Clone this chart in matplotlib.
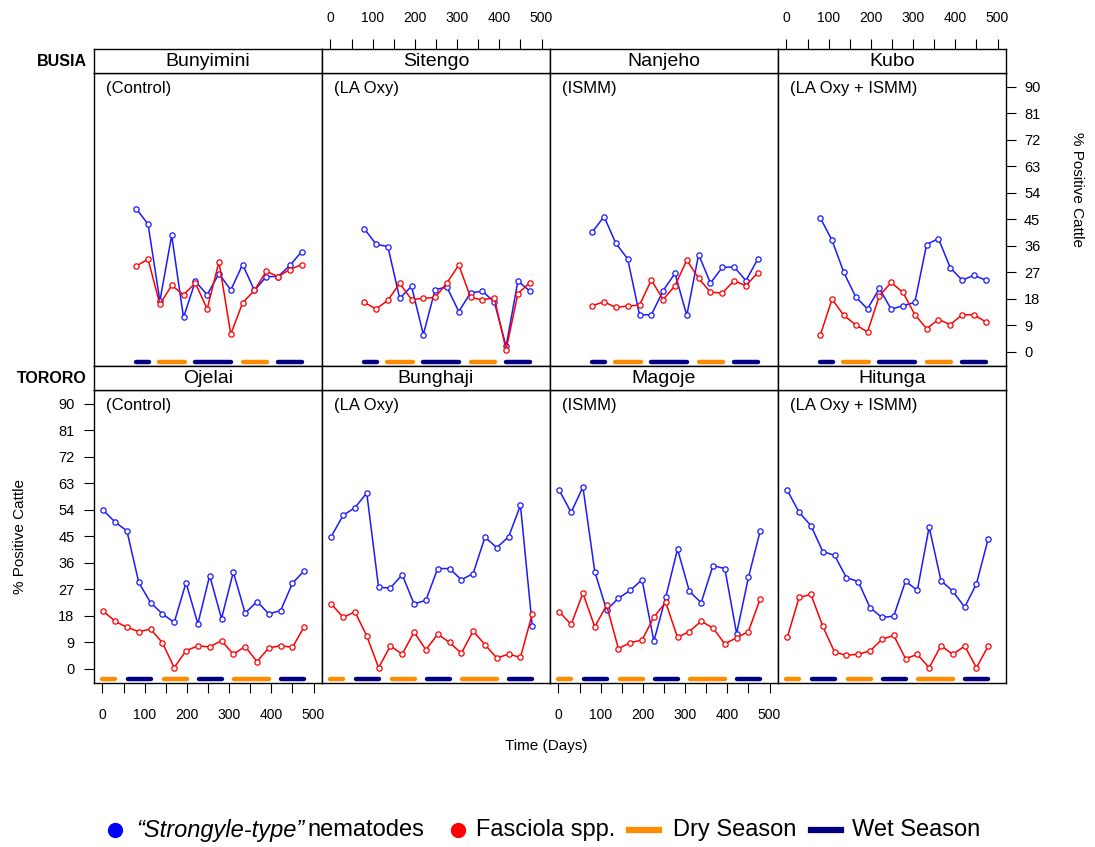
"""Lattice-style panel chart: % positive cattle over time per village, Busia / Tororo."""
import matplotlib
matplotlib.use("Agg")
import matplotlib.pyplot as plt
from matplotlib.lines import Line2D

plt.rcParams["font.family"] = ["Liberation Sans", "DejaVu Sans"]

# ---- data -------------------------------------------------------------------
DISTRICTS = ["BUSIA", "TORORO"]
SITES = [["Bunyimini", "Sitengo", "Nanjeho", "Kubo"],
         ["Ojelai", "Bunghaji", "Magoje", "Hitunga"]]
TREATMENTS = ["(Control)", "(LA Oxy)", "(ISMM)", "(LA Oxy + ISMM)"]

days_busia = [80, 108, 136, 164, 192, 220, 248, 276, 304, 332, 360, 388, 416, 444, 472]
days_tororo = [2, 30, 58, 86, 114, 142, 170, 198, 226, 254, 282, 310, 338, 366,
               394, 422, 450, 478]

bunyimini_strongyle = [48.6, 43.3, 17.2, 39.5, 11.6, 23.9, 19.3, 26.5, 20.9, 29.6,
                       20.8, 25.5, 25.5, 29.3, 34.0]
bunyimini_fasciola = [29.1, 31.4, 16.1, 22.5, 19.3, 23.3, 14.5, 30.5, 5.9, 16.6,
                      20.8, 27.3, 25.5, 27.9, 29.6]
sitengo_strongyle = [41.8, 36.5, 35.7, 18.1, 22.2, 5.8, 21.1, 21.9, 13.6, 20.0,
                     20.5, 16.9, 1.8, 24.0, 20.6]
sitengo_fasciola = [16.7, 14.5, 17.4, 23.2, 17.7, 18.1, 18.4, 23.4, 29.4, 18.4,
                    17.6, 18.3, 0.6, 19.7, 23.4]
nanjeho_strongyle = [40.6, 45.9, 36.8, 31.5, 12.5, 12.5, 20.7, 26.6, 12.3, 33.0,
                     23.3, 28.6, 28.8, 24.1, 31.4]
nanjeho_fasciola = [15.6, 16.9, 15.0, 15.5, 15.8, 24.3, 17.7, 22.4, 31.1, 24.9,
                    20.2, 19.9, 24.1, 22.4, 26.8]
kubo_strongyle = [45.5, 37.8, 26.9, 18.6, 14.5, 21.5, 14.4, 15.6, 16.7, 36.4,
                  38.4, 28.5, 24.3, 25.9, 24.3]
kubo_fasciola = [5.5, 17.8, 12.3, 9.1, 6.7, 18.9, 23.5, 20.1, 12.6, 7.8,
                 10.9, 9.2, 12.5, 12.5, 10.1]

ojelai_strongyle = [53.8, 49.8, 46.8, 29.3, 22.4, 18.6, 15.7, 29.2, 15.2, 31.6,
                    17.0, 32.8, 18.8, 22.8, 18.6, 19.7, 29.0, 33.3]
ojelai_fasciola = [19.5, 16.1, 14.0, 12.6, 13.4, 8.8, 0.3, 6.1, 7.7, 7.4,
                   9.5, 4.9, 7.5, 2.4, 7.0, 7.8, 7.2, 14.3]
bunghaji_strongyle = [44.9, 52.1, 54.7, 59.7, 27.6, 27.4, 31.9, 22.0, 23.2, 34.0,
                      34.0, 30.2, 32.3, 44.7, 41.1, 44.8, 55.5, 14.4]
bunghaji_fasciola = [22.0, 17.4, 19.3, 11.1, 0.3, 7.7, 4.9, 12.4, 6.4, 11.7,
                     8.9, 5.2, 12.8, 8.1, 3.6, 4.9, 3.8, 18.6]
magoje_strongyle = [60.6, 53.1, 61.7, 33.0, 19.9, 23.9, 26.6, 30.2, 9.3, 24.2,
                    40.6, 26.3, 22.4, 35.0, 34.0, 11.9, 31.0, 46.9]
magoje_fasciola = [19.3, 15.0, 25.6, 14.2, 21.5, 6.8, 8.8, 9.7, 17.5, 22.5,
                   10.6, 12.6, 16.1, 13.8, 8.4, 10.5, 12.6, 23.8]
hitunga_strongyle = [60.6, 53.1, 48.6, 39.8, 38.5, 30.9, 29.6, 20.7, 17.4, 17.8,
                     29.7, 26.6, 48.1, 29.9, 26.3, 20.9, 28.8, 44.2]
hitunga_fasciola = [10.6, 24.2, 25.2, 14.4, 5.6, 4.5, 4.9, 6.0, 9.9, 11.3,
                    3.4, 4.8, 0.3, 7.8, 4.8, 7.7, 0.3, 7.7]

# season periods (start day, end day)
busia_dry = [(135, 195), (332, 390)]
busia_wet = [(80, 110), (220, 305), (416, 473)]
tororo_dry = [(0, 30), (145, 200), (312, 394)]
tororo_wet = [(60, 115), (228, 282), (424, 478)]

x_ticks = [0, 50, 100, 150, 200, 250, 300, 350, 400, 450, 500]
x_ticklabels = ["0", "", "100", "", "200", "", "300", "", "400", "", "500"]
y_ticks = [0, 9, 18, 27, 36, 45, 54, 63, 72, 81, 90]

# ---- assemble -----------------------------------------------------------------
DAYS = [days_busia, days_tororo]
STRONGYLE = [[bunyimini_strongyle, sitengo_strongyle, nanjeho_strongyle, kubo_strongyle],
             [ojelai_strongyle, bunghaji_strongyle, magoje_strongyle, hitunga_strongyle]]
FASCIOLA = [[bunyimini_fasciola, sitengo_fasciola, nanjeho_fasciola, kubo_fasciola],
            [ojelai_fasciola, bunghaji_fasciola, magoje_fasciola, hitunga_fasciola]]
DRY = [busia_dry, tororo_dry]
WET = [busia_wet, tororo_wet]

BLUE = "#1a1aff"
RED = "#ff0000"
DRY_C = "#ff8c00"
WET_C = "#000080"

W, H = 1095, 847
COL_LEFT = [94, 322, 550, 778]
COL_W = 228
STRIP_TOP = [49, 366]
STRIP_H = 24
PANEL_H = 293
XLIM = (-20, 520)
YLIM = (-4.9, 94.7)
SEASON_Y = -3.5


def rect(left, top, w, h):
    return [left / W, 1 - (top + h) / H, w / W, h / H]


fig = plt.figure(figsize=(W / 100, H / 100), dpi=100)

for r in range(2):
    for c in range(4):
        left = COL_LEFT[c]
        stop = STRIP_TOP[r]
        ax = fig.add_axes(rect(left, stop + STRIP_H, COL_W, PANEL_H))
        sax = fig.add_axes(rect(left, stop, COL_W, STRIP_H))

        for a in (ax, sax):
            a.set_xlim(*XLIM)
            for sp in a.spines.values():
                sp.set_linewidth(1.0)
            a.tick_params(left=False, bottom=False, labelleft=False,
                          labelbottom=False, length=7, width=0.8,
                          labelsize=10, color="black")
        sax.set_yticks([])
        sax.set_xticks([])
        sax.text(0.5, 0.5, SITES[r][c], transform=sax.transAxes,
                 ha="center", va="center", fontsize=14)

        ax.set_ylim(*YLIM)
        ax.set_xticks(x_ticks)
        ax.set_xticklabels(x_ticklabels)
        ax.set_yticks(y_ticks)

        for s, e in DRY[r]:
            ax.plot([s, e], [SEASON_Y, SEASON_Y], color=DRY_C, lw=3.2,
                    solid_capstyle="round")
        for s, e in WET[r]:
            ax.plot([s, e], [SEASON_Y, SEASON_Y], color=WET_C, lw=3.2,
                    solid_capstyle="round")

        ax.plot(DAYS[r], STRONGYLE[r][c], color=BLUE, lw=1.1, marker="o",
                ms=3.8, mfc="white", mec=BLUE, mew=0.9)
        ax.plot(DAYS[r], FASCIOLA[r][c], color=RED, lw=1.1, marker="o",
                ms=3.8, mfc="white", mec=RED, mew=0.9)

        ax.text(12 / COL_W, 1 - 15 / PANEL_H, TREATMENTS[c],
                transform=ax.transAxes, ha="left", va="center", fontsize=12)

        # alternating lattice axes
        if r == 0 and c in (1, 3):
            sax.set_xticks(x_ticks)
            sax.set_xticklabels(x_ticklabels)
            sax.tick_params(axis="x", top=True, labeltop=True, length=7,
                            width=0.8, pad=10, labelsize=10)
        if r == 0 and c == 3:
            ax.tick_params(axis="y", right=True, labelright=True, length=7,
                           width=0.8, pad=6, labelsize=10.5)
        if r == 1 and c in (0, 2):
            ax.tick_params(axis="x", bottom=True, labelbottom=True, length=7,
                           width=0.8, pad=11, labelsize=10)
        if r == 1 and c == 0:
            ax.tick_params(axis="y", left=True, labelleft=True, length=7,
                           width=0.8, pad=7, labelsize=10.5)

    fig.text(87 / W, 1 - (STRIP_TOP[r] + STRIP_H / 2) / H, DISTRICTS[r],
             ha="right", va="center", fontsize=11.5, fontweight="bold")

fig.text(20 / W, 1 - 536 / H, "% Positive Cattle", rotation=90,
         ha="center", va="center", fontsize=11)
fig.text(1077 / W, 1 - 190 / H, "% Positive Cattle", rotation=-90,
         ha="center", va="center", fontsize=11)
fig.text(546 / W, 1 - 746 / H, "Time (Days)", ha="center", va="center",
         fontsize=11)

# ---- legend -------------------------------------------------------------------
ly = 1 - 830 / H
fig.add_artist(Line2D([115 / W], [ly], marker="o", ms=10, color="blue",
                      lw=0, transform=fig.transFigure))
fig.add_artist(Line2D([458 / W], [ly], marker="o", ms=10, color="red",
                      lw=0, transform=fig.transFigure))
fig.add_artist(Line2D([629 / W, 659 / W], [ly, ly], color=DRY_C, lw=4.5,
                      transform=fig.transFigure))
fig.add_artist(Line2D([811 / W, 841 / W], [ly, ly], color=WET_C, lw=4.5,
                      transform=fig.transFigure))

t_it = fig.text(136 / W, ly, "\u201cStrongyle-type\u201d", style="italic",
                ha="left", va="center", fontsize=17)
fig.canvas.draw()
bb = t_it.get_window_extent()
fig.text((bb.x1 + 3) / W, ly, "nematodes", ha="left", va="center", fontsize=17)
fig.text(476 / W, ly, "Fasciola spp.", ha="left", va="center", fontsize=17)
fig.text(673 / W, ly, "Dry Season", ha="left", va="center", fontsize=17)
fig.text(852 / W, ly, "Wet Season", ha="left", va="center", fontsize=17)

fig.savefig("out.png", dpi=100)
plt.close(fig)
